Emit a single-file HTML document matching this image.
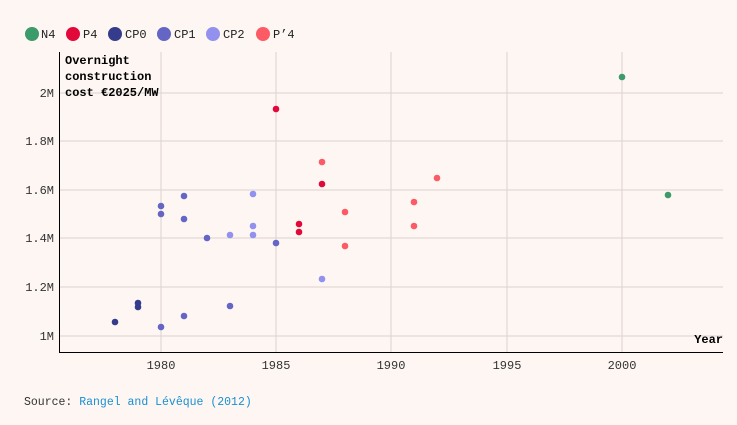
<!DOCTYPE html><html><head><style>body{margin:0;background:#fdf6f3;width:737px;height:420px;overflow:hidden;font-family:"Liberation Mono",monospace}</style></head><body>
<svg width="737" height="420" xmlns="http://www.w3.org/2000/svg" font-family="Liberation Mono, monospace" font-size="12">
<rect width="737" height="420" fill="#fdf6f3"/>
<g>
<circle cx="32" cy="34" r="7" fill="#3d9a6a"/><text x="41" y="38" fill="#222">N4</text>
<circle cx="73" cy="34" r="7" fill="#e3083a"/><text x="83" y="38" fill="#222">P4</text>
<circle cx="115" cy="34" r="7" fill="#353c8c"/><text x="125" y="38" fill="#222">CP0</text>
<circle cx="164" cy="34" r="7" fill="#6465c4"/><text x="174" y="38" fill="#222">CP1</text>
<circle cx="213" cy="34" r="7" fill="#9291ee"/><text x="223" y="38" fill="#222">CP2</text>
<circle cx="263" cy="34" r="7" fill="#fc5a64"/><text x="273" y="38" fill="#222">P’4</text>
</g>
<g stroke="#ddd3d1" stroke-width="1">
<line x1="161" y1="52" x2="161" y2="352"/><line x1="276" y1="52" x2="276" y2="352"/><line x1="391" y1="52" x2="391" y2="352"/><line x1="507" y1="52" x2="507" y2="352"/><line x1="622" y1="52" x2="622" y2="352"/>
<line x1="59" y1="336" x2="723" y2="336"/><line x1="59" y1="287" x2="723" y2="287"/><line x1="59" y1="238" x2="723" y2="238"/><line x1="59" y1="190" x2="723" y2="190"/><line x1="59" y1="141" x2="723" y2="141"/><line x1="59" y1="93" x2="723" y2="93"/>
</g>
<line x1="59.5" y1="52" x2="59.5" y2="352" stroke="#000"/>
<line x1="59" y1="352.5" x2="723" y2="352.5" stroke="#000"/>
<g fill="#333" text-anchor="end">
<text x="54" y="340">1M</text><text x="54" y="291">1.2M</text><text x="54" y="242">1.4M</text><text x="54" y="194">1.6M</text><text x="54" y="145">1.8M</text><text x="54" y="97">2M</text>
</g>
<g fill="#333" text-anchor="middle">
<text x="161" y="369">1980</text><text x="276" y="369">1985</text><text x="391" y="369">1990</text><text x="507" y="369">1995</text><text x="622" y="369">2000</text>
</g>
<g font-weight="bold" fill="#000">
<text x="65" y="64">Overnight</text><text x="65" y="80">construction</text><text x="65" y="96">cost €2025/MW</text>
<text x="723" y="343" text-anchor="end">Year</text>
</g>
<g fill="#3d9a6a"><circle cx="622" cy="77" r="3.3"/><circle cx="668" cy="195" r="3.3"/></g>
<g fill="#e3083a"><circle cx="276" cy="109" r="3.3"/><circle cx="322" cy="184" r="3.3"/><circle cx="299" cy="224" r="3.3"/><circle cx="299" cy="232" r="3.3"/></g>
<g fill="#353c8c"><circle cx="115" cy="322" r="3.3"/><circle cx="138" cy="303" r="3.3"/><circle cx="138" cy="307" r="3.3"/></g>
<g fill="#6465c4"><circle cx="161" cy="206" r="3.3"/><circle cx="161" cy="214" r="3.3"/><circle cx="184" cy="196" r="3.3"/><circle cx="184" cy="219" r="3.3"/><circle cx="207" cy="238" r="3.3"/><circle cx="161" cy="327" r="3.3"/><circle cx="184" cy="316" r="3.3"/><circle cx="230" cy="306" r="3.3"/><circle cx="276" cy="243" r="3.3"/></g>
<g fill="#9291ee"><circle cx="230" cy="235" r="3.3"/><circle cx="253" cy="194" r="3.3"/><circle cx="253" cy="226" r="3.3"/><circle cx="253" cy="235" r="3.3"/><circle cx="322" cy="279" r="3.3"/></g>
<g fill="#fc5a64"><circle cx="322" cy="162" r="3.3"/><circle cx="345" cy="212" r="3.3"/><circle cx="345" cy="246" r="3.3"/><circle cx="414" cy="202" r="3.3"/><circle cx="414" cy="226" r="3.3"/><circle cx="437" cy="178" r="3.3"/></g>
<text x="24" y="405" fill="#333" font-size="11.5">Source: <tspan fill="#1a8fd0">Rangel and Lévêque (2012)</tspan></text>
</svg>
</body></html>
